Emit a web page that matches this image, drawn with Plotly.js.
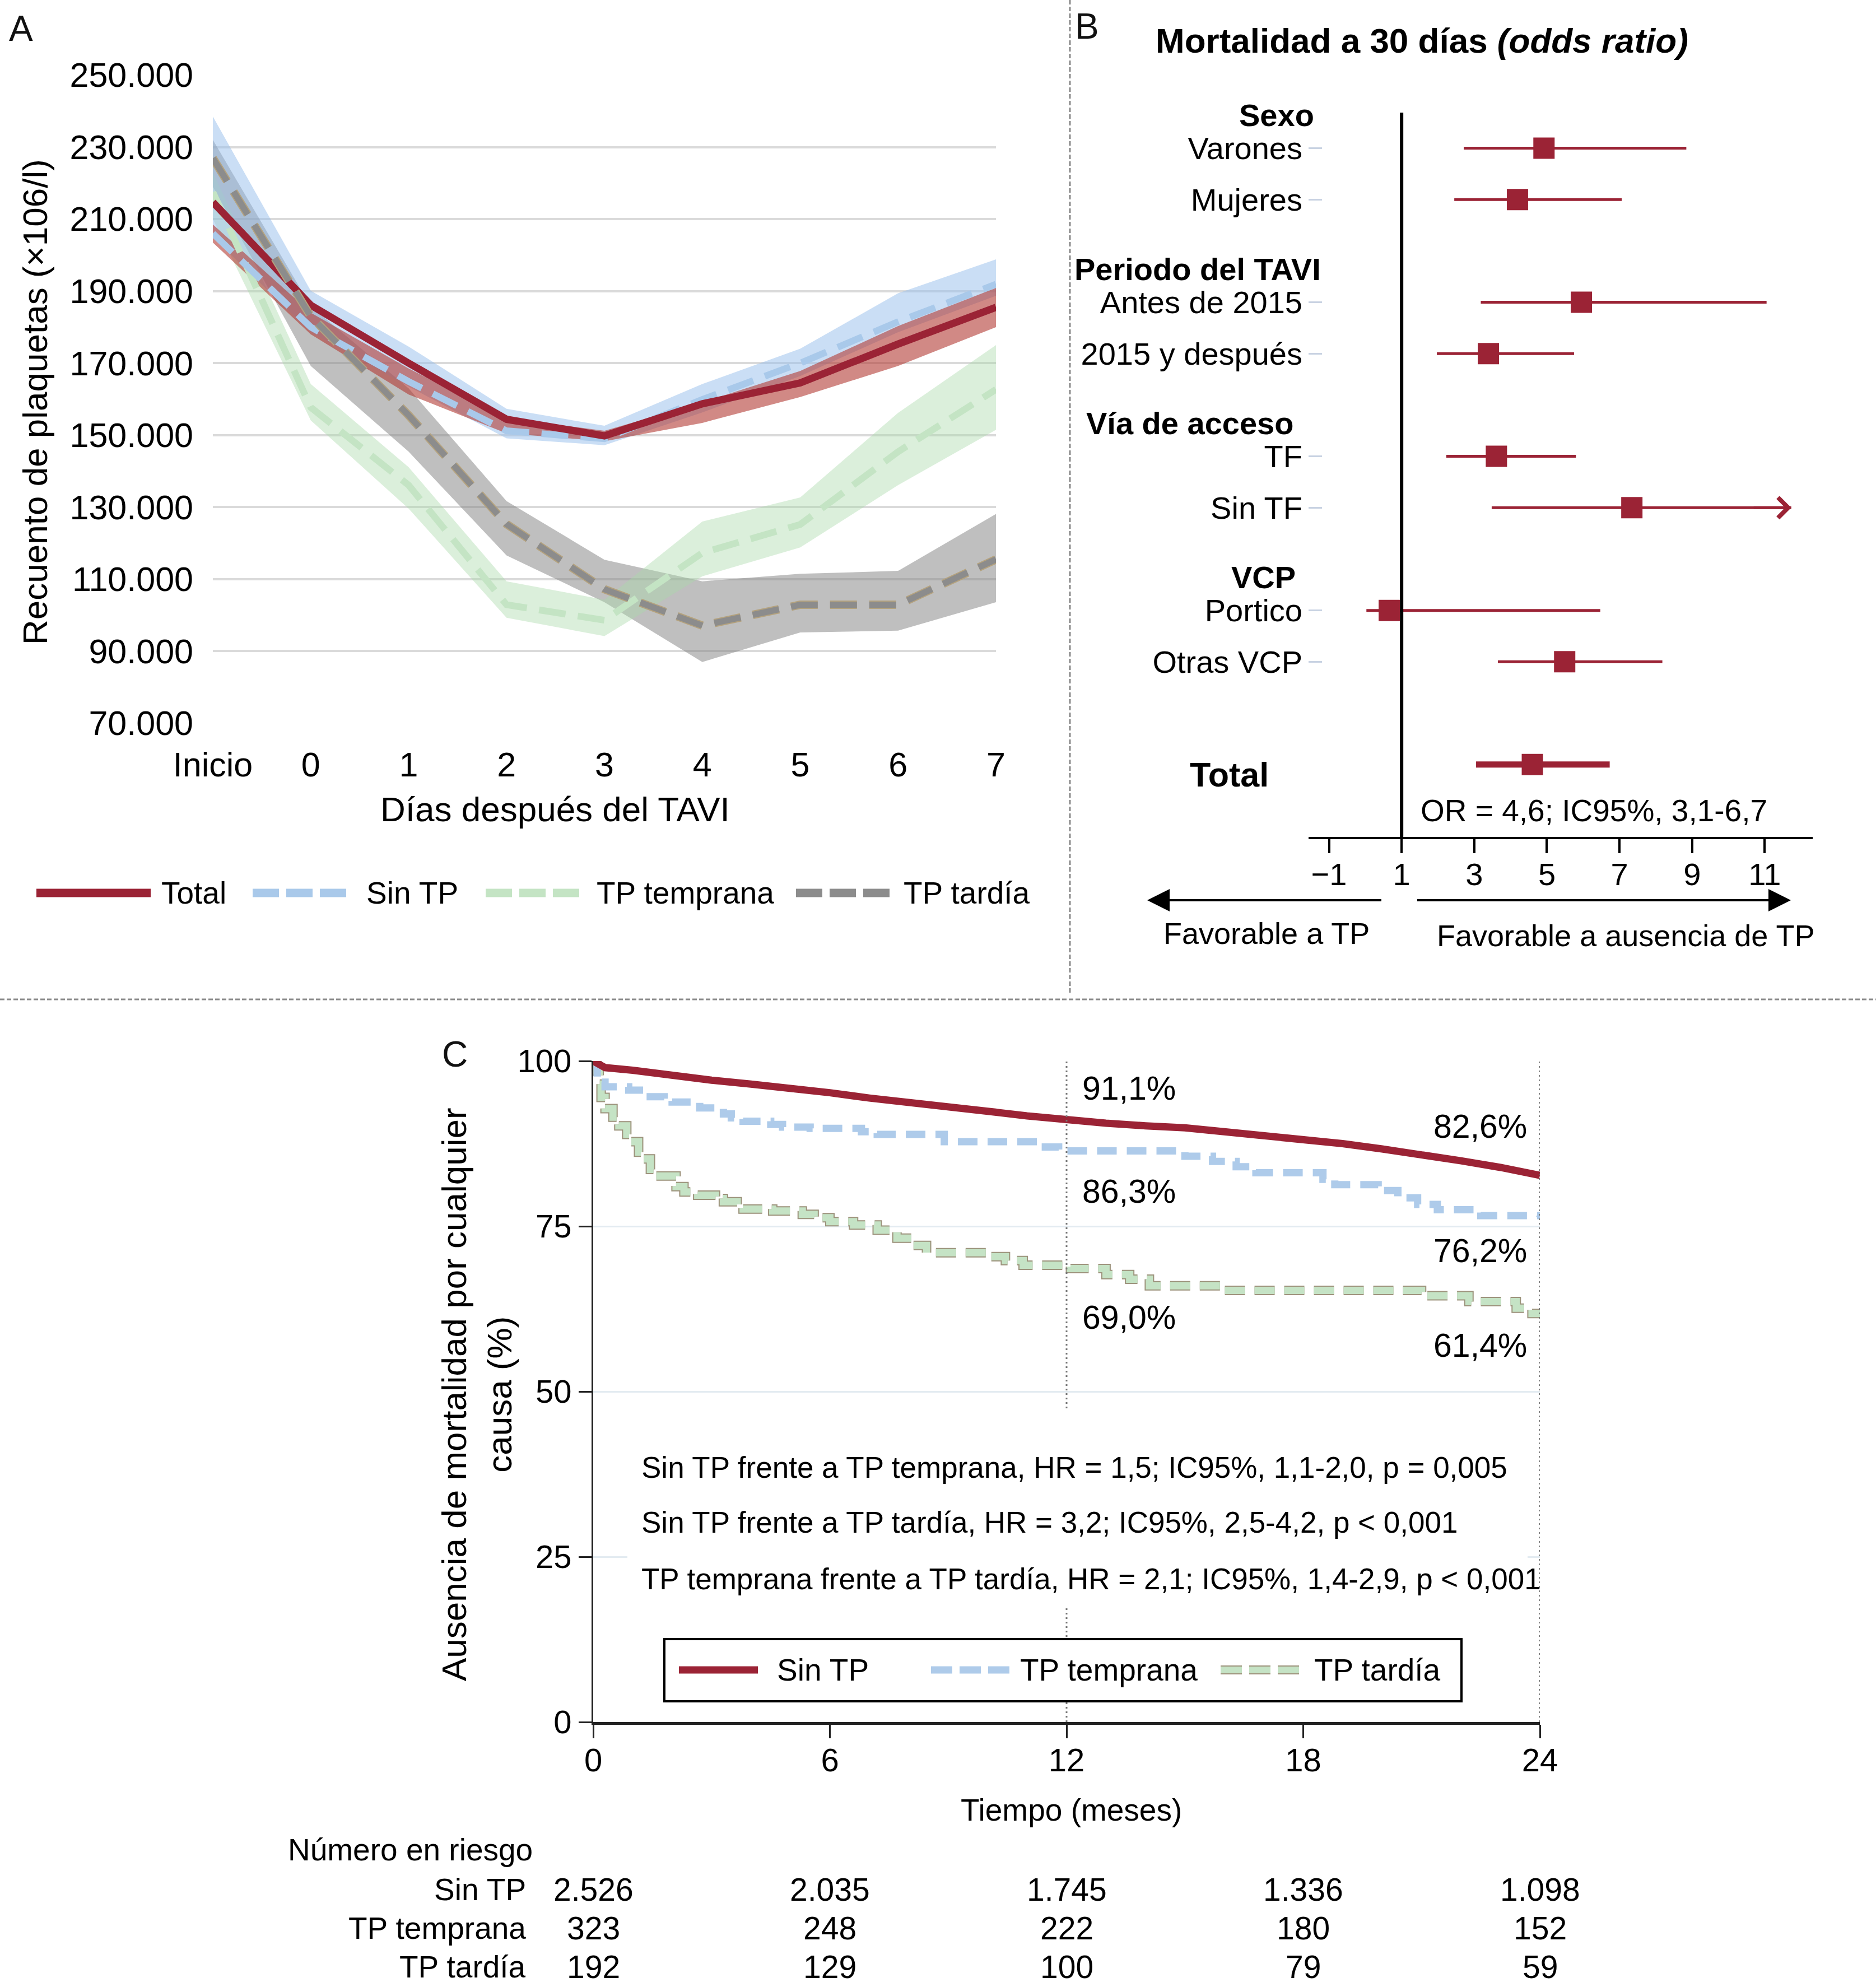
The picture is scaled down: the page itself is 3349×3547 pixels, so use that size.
<!DOCTYPE html>
<html><head><meta charset="utf-8">
<script src="https://cdn.plot.ly/plotly-3.0.1.min.js"></script>
<style>html,body{margin:0;padding:0;background:#fff;}#chart{width:3349px;height:3547px;}</style>
</head><body><div id="chart"></div>
<script>
// ---------------- Panel A data (platelet count) ----------------
const dayCategories = ['Inicio','0','1','2','3','4','5','6','7'];
const totalMean    = [214700,186100,170000,154400,149800,158700,164500,175300,185500];
const totalLow     = [203500,178000,161300,150500,148300,153400,160600,169200,180000];
const totalHigh    = [208500,184000,168500,154800,151200,159100,167800,180300,190900];
const sinTPMean    = [206000,180000,164900,151200,149000,159900,170000,181500,191900];
const sinTPLow     = [205000,178600,163500,149100,147200,156300,166400,178600,188700];
const sinTPHigh    = [238500,190100,174600,157300,152600,164200,174000,189400,198800];
const tempranaMean = [217500,157700,136100,102900,98600,117300,125200,145400,162700];
const tempranaLow  = [210000,154100,129600,99300,94200,110800,118800,136100,151500];
const tempranaHigh = [223000,164200,141100,109400,104300,126000,132700,156200,175000];
const tardiaMean   = [226900,183000,155500,125300,107200,97100,102900,102900,115500];
const tardiaLow    = [219000,169200,145400,116600,103600,87000,95200,95700,103600];
const tardiaHigh   = [232000,185800,163000,131700,115400,109400,111500,112300,128100];
const seriesNamesA = ['Total','Sin TP','TP temprana','TP tardía'];

// ---------------- Panel B data (forest plot) ----------------
const forestGroups  = ['Sexo','Periodo del TAVI','Vía de acceso','VCP'];
const forestLabels  = ['Varones','Mujeres','Antes de 2015','2015 y después','TF','Sin TF','Portico','Otras VCP'];
const forestGroupOf = [0,0,1,1,2,2,3,3];
const forestOR      = [4.92,4.19,5.95,3.39,3.61,7.34,0.66,5.49];
const forestLow     = [2.71,2.45,3.18,1.97,2.23,3.48,0.03,3.65];
const forestHigh    = [8.84,7.06,11.05,5.75,5.80,11.73,6.47,8.18];
const forestArrow   = [false,false,false,false,false,true,false,false];
const totalOR = [4.6], totalORLow = [3.05], totalORHigh = [6.73];
const forestTicks = [-1,1,3,5,7,9,11];

// ---------------- Panel C data (Kaplan-Meier) ----------------
const kmTimeSinTP = [0,0.3,1,2,3,4,5,6,7,8,9,10,11,12,13,14,15,16,17,18,19,20,21,22,23,24];
const kmSinTP     = [100,99.0,98.6,97.8,97.1,96.5,95.9,95.2,94.4,93.8,93.1,92.4,91.7,91.1,90.6,90.2,89.9,89.3,88.7,88.2,87.5,86.7,85.9,84.9,83.9,82.7];
const kmTimeTemprana = [0,0.1,0.2,0.3,0.9,1.3,1.8,2.0,2.7,3.3,3.5,3.8,4.5,4.8,5.5,6.8,7.2,8.9,11.3,11.8,15.0,15.7,16.3,16.8,18.5,18.8,19.9,20.4,20.9,21.4,22.5,24];
const kmTemprana     = [100,98.2,96.8,96.1,95.6,94.6,94.2,93.8,92.9,92.0,91.4,90.9,90.4,90.0,89.8,89.3,88.9,87.8,87.0,86.4,85.6,84.8,84.0,83.1,82.1,81.3,80.4,79.3,78.3,77.5,76.6,76.4];
const kmTimeTardia = [0,0.1,0.15,0.2,0.3,0.5,0.65,0.85,0.95,1.15,1.25,1.45,1.6,2.1,2.3,2.65,3.1,3.3,3.65,3.8,4.55,5.3,5.6,6.0,6.6,7.2,7.7,8.1,8.45,10.0,10.45,10.9,12.1,13.0,13.6,14.1,15.9,21.0,22.2,23.4,23.8,24];
const kmTardia     = [100,98.5,96.5,94.5,92.8,91.5,90.2,88.9,87.8,86.2,85.2,83.6,82.6,81.0,80.2,79.7,79.2,78.7,78.0,77.6,77.3,76.8,76.3,75.7,75.2,74.4,73.2,72.1,71.0,70.4,69.8,69.1,68.6,67.7,67.0,66.0,65.3,64.5,63.6,62.6,61.8,61.4];
const kmSeriesNames = ['Sin TP','TP temprana','TP tardía'];
const kmLabels12 = [91.1,86.3,69.0];
const kmLabels24 = [82.6,76.2,61.4];
const hrTexts = [
  'Sin TP frente a TP temprana, HR = 1,5; IC95%, 1,1-2,0, p = 0,005',
  'Sin TP frente a TP tardía, HR = 3,2; IC95%, 2,5-4,2, p < 0,001',
  'TP temprana frente a TP tardía, HR = 2,1; IC95%, 1,4-2,9, p < 0,001'
];
const riskTimes = [0,6,12,18,24];
const riskSinTP = [2526,2035,1745,1336,1098];
const riskTemprana = [323,248,222,180,152];
const riskTardia = [192,129,100,79,59];

// ---------------- helpers ----------------
const F = "'Liberation Sans', Arial, Helvetica, sans-serif";
const W = 3349, H = 3547;
const px = v => v / W, py = v => 1 - v / H;
const RED = '#9b2335', BLUE = '#a9c9ea', GREEN = '#c4e4c4', GRAY = '#8c8c8c';
const fmtThousands = n => String(n).replace(/\B(?=(\d{3})+(?!\d))/g, '.');
const fmtPct = v => v.toFixed(1).replace('.', ',') + '%';

function band(x, lo, hi, color) {
  return {x: x.concat(x.slice().reverse()), y: hi.concat(lo.slice().reverse()),
    type:'scatter', mode:'lines', fill:'toself', fillcolor:color, line:{width:0},
    hoverinfo:'skip', xaxis:'x', yaxis:'y', showlegend:false};
}
function lineA(y, color, width, dash, name) {
  return {x: dayCategories, y: y, type:'scatter', mode:'lines', name:name,
    line:{color:color, width:width, dash:dash}, xaxis:'x', yaxis:'y', showlegend:false};
}
function txt(text, x, y, size, opts) {
  return Object.assign({text:text, xref:'paper', yref:'paper', x:px(x), y:py(y),
    showarrow:false, xanchor:'center', yanchor:'middle',
    font:{family:F, size:size, color:'#000'}}, opts || {});
}

const traces = [];
// Panel A bands
traces.push(band(dayCategories, tardiaLow, tardiaHigh, 'rgba(128,128,128,0.5)'));
traces.push(band(dayCategories, tempranaLow, tempranaHigh, 'rgba(170,218,170,0.42)'));
traces.push(band(dayCategories, sinTPLow, sinTPHigh, 'rgba(150,190,235,0.5)'));
traces.push(band(dayCategories, totalLow, totalHigh, 'rgba(178,58,52,0.6)'));
// Panel A lines
const dashA = '48px,22px';
traces.push(lineA(tempranaMean, GREEN, 12, dashA, seriesNamesA[2]));
traces.push(lineA(sinTPMean, BLUE, 12, dashA, seriesNamesA[1]));
traces.push(lineA(totalMean, RED, 13, 'solid', seriesNamesA[0]));
traces.push(lineA(tardiaMean, '#b4a27e', 15, dashA, seriesNamesA[3]));
traces.push(lineA(tardiaMean, GRAY, 11, dashA, seriesNamesA[3]));

// Panel B forest
const forestRow = forestGroupOf.map((g, i) => g * 3 + forestGroupOf.slice(0, i).filter(v => v === g).length);
const totalRow = [forestGroups.length * 3];
traces.push({x: forestOR, y: forestRow, type:'scatter', mode:'markers', xaxis:'x2', yaxis:'y2',
  marker:{symbol:'square', size:38, color:RED},
  error_x:{type:'data', symmetric:false, array: forestHigh.map((h, i) => h - forestOR[i]),
    arrayminus: forestOR.map((o, i) => o - forestLow[i]), color:RED, thickness:5, width:0},
  showlegend:false, cliponaxis:false});
traces.push({x: totalOR, y: totalRow, type:'scatter', mode:'markers', xaxis:'x2', yaxis:'y2',
  marker:{symbol:'square', size:38, color:RED},
  error_x:{type:'data', symmetric:false, array:[totalORHigh[0] - totalOR[0]],
    arrayminus:[totalOR[0] - totalORLow[0]], color:RED, thickness:11, width:0},
  showlegend:false, cliponaxis:false});

// Panel C KM curves
traces.push({x: kmTimeTardia, y: kmTardia, type:'scatter', mode:'lines', xaxis:'x3', yaxis:'y3',
  line:{color:'#9d937c', width:17, dash:'36px,17px', shape:'hv'}, showlegend:false, cliponaxis:false});
traces.push({x: kmTimeTardia, y: kmTardia, type:'scatter', mode:'lines', xaxis:'x3', yaxis:'y3', name:kmSeriesNames[2],
  line:{color:'#c5e3c5', width:13, dash:'36px,17px', shape:'hv'}, showlegend:false, cliponaxis:false});
traces.push({x: kmTimeTemprana, y: kmTemprana, type:'scatter', mode:'lines', xaxis:'x3', yaxis:'y3', name:kmSeriesNames[1],
  line:{color:'#aecbea', width:13, dash:'35px,18px', shape:'hv'}, showlegend:false, cliponaxis:false});
traces.push({x: kmTimeSinTP, y: kmSinTP, type:'scatter', mode:'lines', xaxis:'x3', yaxis:'y3', name:kmSeriesNames[0],
  line:{color:RED, width:13}, showlegend:false, cliponaxis:false});

// ---------------- annotations ----------------
const ann = [];
// Panel A
ann.push(txt('A', 14, 51, 64, {xanchor:'left', font:{family:F, size:64, color:'#111'}}));
ann.push(txt('Recuento de plaquetas (×106/l)', 62, 718, 62, {textangle:-90}));
ann.push(txt('Días después del TAVI', 991, 1444, 62));
const legAx = [286, 652, 1063, 1611];
seriesNamesA.forEach((n, i) => ann.push(txt(n, legAx[i], 1594, 55, {xanchor:'left'})));

// Panel B
ann.push(txt('B', 1917, 47, 64, {xanchor:'left', font:{family:F, size:64, color:'#111'}}));
ann.push(txt('<b>Mortalidad a 30 días <i>(odds ratio)</i></b>', 2538, 72, 62));
const headerRight = [2348, 2360, 2311, 2315];
forestGroups.forEach((g, gi) => {
  const first = forestRow[forestGroupOf.indexOf(gi)];
  ann.push({text:'<b>' + g + '</b>', xref:'paper', yref:'y2', x:px(headerRight[gi]), y:first - 0.64,
    xanchor:'right', yanchor:'middle', showarrow:false, font:{family:F, size:56, color:'#000'}});
});
ann.push({text:'<b>Total</b>', xref:'paper', yref:'y2', x:px(2194), y:totalRow[0], yshift:-18,
  xanchor:'center', yanchor:'middle', showarrow:false, font:{family:F, size:61, color:'#000'}});
ann.push(txt('OR = ' + String(totalOR[0]).replace('.', ',') + '; IC95%, 3,1-6,7', 2534, 1447, 55, {xanchor:'left'}));
forestArrow.forEach((a, i) => {
  if (a) ann.push({text:' ', xref:'x2', yref:'y2', x:forestHigh[i], y:forestRow[i], ax:-70, ay:0,
    showarrow:true, arrowhead:4, arrowsize:1.4, arrowwidth:5, arrowcolor:RED});
});
ann.push({text:' ', xref:'paper', yref:'paper', x:px(2048), y:py(1607), ax:421, ay:0,
  showarrow:true, arrowhead:2, arrowsize:2.0, arrowwidth:4, arrowcolor:'#000'});
ann.push({text:' ', xref:'paper', yref:'paper', x:px(3197), y:py(1607), ax:-670, ay:0,
  showarrow:true, arrowhead:2, arrowsize:2.0, arrowwidth:4, arrowcolor:'#000'});
ann.push(txt('Favorable a TP', 2261, 1666, 54));
ann.push(txt('Favorable a ausencia de TP', 2902, 1670, 54));

// Panel C
ann.push(txt('C', 787, 1882, 64, {xanchor:'left', font:{family:F, size:64, color:'#111'}}));
ann.push(txt('Ausencia de mortalidad por cualquier<br>causa (%)', 851, 2489, 62, {textangle:-90}));
ann.push(txt('Tiempo (meses)', 1912, 3231, 55));
const y12 = [1943, 2127, 2352], y24 = [2011, 2233, 2402];
kmLabels12.forEach((v, i) => ann.push(txt(fmtPct(v), 1930, y12[i], 59, {xanchor:'left'})));
kmLabels24.forEach((v, i) => ann.push(txt(fmtPct(v), 2557, y24[i], 59, {xanchor:'left'})));
const hrY = [2619, 2717, 2818];
hrTexts.forEach((t, i) => ann.push(txt(t, 1143, hrY[i], 53, {xanchor:'left'})));
const legCx = [1385, 1819, 2344];
kmSeriesNames.forEach((n, i) => ann.push(txt(n, legCx[i], 2981, 55, {xanchor:'left'})));
ann.push(txt('Número en riesgo', 512, 3302, 55, {xanchor:'left'}));
const riskRowsY = [3373, 3442, 3511];
const riskData = [riskSinTP, riskTemprana, riskTardia];
kmSeriesNames.forEach((n, i) => {
  ann.push(txt(n, 941, riskRowsY[i], 55, {xanchor:'right'}));
  riskTimes.forEach((t, j) => ann.push({text:fmtThousands(riskData[i][j]), xref:'x3', yref:'paper',
    x:t, y:py(riskRowsY[i]), xanchor:'center', yanchor:'middle', showarrow:false,
    font:{family:F, size:57, color:'#000'}}));
});

// ---------------- shapes ----------------
const sep = {color:'#8a8a8a', width:3, dash:'8px,4px'};
const shapes = [
  {type:'line', xref:'paper', yref:'paper', x0:px(1910), x1:px(1910), y0:py(0), y1:py(1776), line:sep},
  {type:'line', xref:'paper', yref:'paper', x0:0, x1:1, y0:py(1784), y1:py(1784), line:sep},
  // legend A samples
  {type:'line', xref:'paper', yref:'paper', x0:px(65), x1:px(269), y0:py(1594), y1:py(1594), line:{color:RED, width:15}},
  {type:'line', xref:'paper', yref:'paper', x0:px(451), x1:px(618), y0:py(1594), y1:py(1594), line:{color:BLUE, width:15, dash:'47px,13px'}},
  {type:'line', xref:'paper', yref:'paper', x0:px(867), x1:px(1034), y0:py(1594), y1:py(1594), line:{color:GREEN, width:15, dash:'47px,13px'}},
  {type:'line', xref:'paper', yref:'paper', x0:px(1421), x1:px(1588), y0:py(1594), y1:py(1594), line:{color:GRAY, width:15, dash:'47px,13px'}},
  // forest reference line at OR = 1
  {type:'line', xref:'x2', yref:'y2 domain', x0:1, x1:1, y0:0, y1:1, line:{color:'#000', width:6}},
  // KM dotted landmarks
  {type:'line', xref:'x3', yref:'y3 domain', x0:12, x1:12, y0:0, y1:1, line:{color:'#777', width:3, dash:'3px,5px'}},
  {type:'line', xref:'x3', yref:'y3 domain', x0:24, x1:24, y0:0, y1:1, line:{color:'#777', width:3, dash:'3px,5px'}},
  {type:'rect', xref:'paper', yref:'paper', x0:px(1120), x1:px(2727), y0:py(2870), y1:py(2516), fillcolor:'#fff', line:{width:0}},
  // KM legend
  {type:'rect', xref:'paper', yref:'paper', x0:px(1186), x1:px(2609), y0:py(3037), y1:py(2926), fillcolor:'#fff', line:{color:'#000', width:4}},
  {type:'line', xref:'paper', yref:'paper', x0:px(1212), x1:px(1353), y0:py(2981), y1:py(2981), line:{color:RED, width:13}},
  {type:'line', xref:'paper', yref:'paper', x0:px(1662), x1:px(1802), y0:py(2981), y1:py(2981), line:{color:'#aecbea', width:13, dash:'38px,13px'}},
  {type:'line', xref:'paper', yref:'paper', x0:px(2179), x1:px(2319), y0:py(2981), y1:py(2981), line:{color:'#9d937c', width:16, dash:'38px,13px'}},
  {type:'line', xref:'paper', yref:'paper', x0:px(2179), x1:px(2319), y0:py(2981), y1:py(2981), line:{color:'#c5e3c5', width:12, dash:'38px,13px'}}
];

// ---------------- layout ----------------
const yTicksA = [70000,90000,110000,130000,150000,170000,190000,210000,230000,250000];
const layout = {
  width:W, height:H, margin:{l:0, r:0, t:0, b:0}, autosize:false,
  paper_bgcolor:'#fff', plot_bgcolor:'rgba(0,0,0,0)', showlegend:false,
  separators:',.', font:{family:F, color:'#000'},
  xaxis:{domain:[px(380), px(1778)], anchor:'y', type:'category', categoryarray:dayCategories,
    range:[0, 8], showgrid:false, zeroline:false, showline:false, ticks:'',
    tickfont:{family:F, size:61, color:'#000'}, ticklabelstandoff:33},
  yaxis:{domain:[py(1291), py(134)], anchor:'x', range:[70000, 250000], tickvals:yTicksA,
    tickformat:',d', showgrid:true, gridcolor:'#dadada', gridwidth:4, zeroline:false, showline:false,
    ticks:'', tickfont:{family:F, size:61, color:'#000'}, ticklabelstandoff:34},
  xaxis2:{domain:[px(2336), px(3236)], anchor:'y2', range:[-1.563, 12.32], tickvals:forestTicks,
    showgrid:false, zeroline:false, showline:true, linecolor:'#000', linewidth:4,
    ticks:'outside', ticklen:25, tickwidth:4, tickcolor:'#000',
    tickfont:{family:F, size:56, color:'#000'}, ticklabelstandoff:-10},
  yaxis2:{domain:[py(1494), py(201)], anchor:'x2', range:[13.41, -0.692], tickvals:forestRow,
    ticktext:forestLabels, showgrid:false, zeroline:false, showline:false,
    ticks:'inside', ticklen:24, tickwidth:3, tickcolor:'#c8d2e2',
    tickfont:{family:F, size:56, color:'#000'}, ticklabelstandoff:10},
  xaxis3:{domain:[px(1059), px(2749)], anchor:'y3', range:[0, 24], tickvals:riskTimes,
    showgrid:false, zeroline:false, showline:true, linecolor:'#222', linewidth:5,
    ticks:'outside', ticklen:24, tickwidth:3, tickcolor:'#222',
    tickfont:{family:F, size:58, color:'#000'}, ticklabelstandoff:-11},
  yaxis3:{domain:[py(3074), py(1894)], anchor:'x3', range:[0, 100], tickvals:[0,25,50,75,100],
    showgrid:true, gridcolor:'#e3ebf1', gridwidth:3, zeroline:false, showline:true,
    linecolor:'#222', linewidth:3, ticks:'outside', ticklen:23, tickwidth:3, tickcolor:'#222',
    tickfont:{family:F, size:58, color:'#000'}, ticklabelstandoff:1},
  annotations:ann, shapes:shapes
};

Plotly.newPlot('chart', traces, layout, {staticPlot:true, displayModeBar:false});
</script></body></html>
